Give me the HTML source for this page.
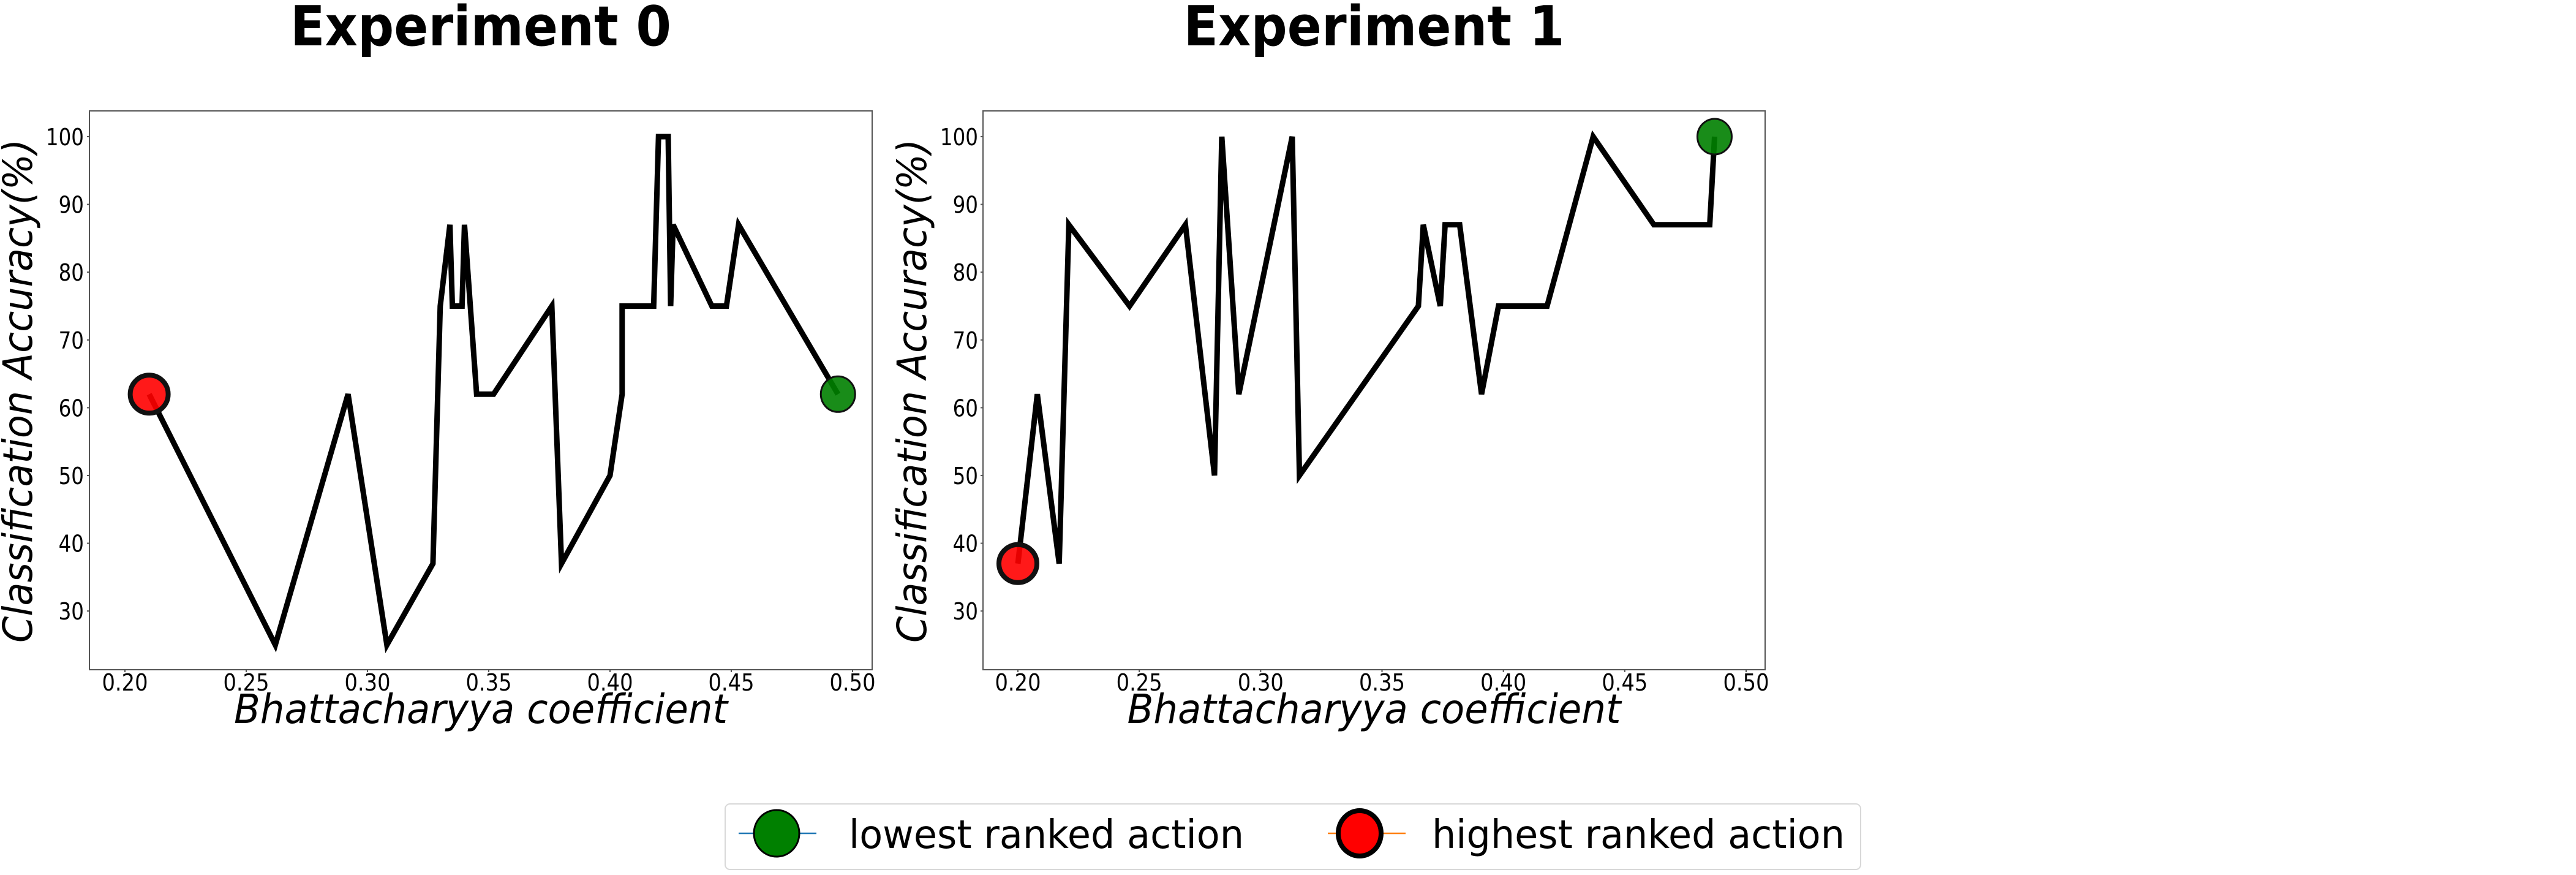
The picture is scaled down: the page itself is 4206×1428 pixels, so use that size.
<!DOCTYPE html>
<html><head><meta charset="utf-8"><style>html,body{margin:0;padding:0;background:#fff}svg{display:block}</style></head>
<body>
<svg id="chart" width="4206" height="1428" viewBox="0 0 4206 1428" xmlns="http://www.w3.org/2000/svg" font-family="DejaVu Sans, Liberation Sans, sans-serif">
<rect x="0" y="0" width="4206" height="1428" fill="#fff"/>
<g id="p0"></g>
<g id="p1"></g>
<g>
  <rect x="1184" y="1312" width="1854" height="107" rx="8" fill="#fff" stroke="#d8d8d8" stroke-width="2"/>
  <g>
    <line x1="1206" y1="1360" x2="1333" y2="1360" stroke="#1f77b4" stroke-width="2.5"/>
    <ellipse cx="1268" cy="1360" rx="37" ry="38" fill="#008000" stroke="#000" stroke-width="3"/>
    <text x="1386" y="1384" font-size="64" textLength="645" lengthAdjust="spacingAndGlyphs">lowest ranked action</text>
  </g>
  <g>
    <line x1="2168" y1="1360" x2="2295" y2="1360" stroke="#ff7f0e" stroke-width="2.5"/>
    <ellipse cx="2220" cy="1360" rx="35" ry="37" fill="#ff0000" stroke="#000" stroke-width="8"/>
    <text x="2338" y="1384" font-size="64" textLength="674" lengthAdjust="spacingAndGlyphs">highest ranked action</text>
  </g>
</g>
</svg>
<script>
const xTicks = [0.20, 0.25, 0.30, 0.35, 0.40, 0.45, 0.50];
const xTickLabels = ["0.20","0.25","0.30","0.35","0.40","0.45","0.50"];
const yTicks = [30, 40, 50, 60, 70, 80, 90, 100];
const titles = ["Experiment 0", "Experiment 1"];
const exp0X = [0.210,0.262,0.292,0.308,0.327,0.330,0.334,0.335,0.339,0.340,0.345,0.352,0.376,0.380,0.400,0.405,0.405,0.418,0.420,0.424,0.425,0.426,0.442,0.448,0.453,0.494];
const exp0Y = [62,25,62,25,37,75,87,75,75,87,62,62,75,37,50,62,75,75,100,100,75,87,75,75,87,62];
const exp1X = [0.200,0.208,0.217,0.221,0.246,0.269,0.281,0.284,0.291,0.313,0.316,0.365,0.367,0.374,0.376,0.382,0.391,0.398,0.418,0.437,0.462,0.485,0.487];
const exp1Y = [37,62,37,87,75,87,50,100,62,100,50,75,87,75,87,87,62,75,75,100,87,87,100];

const NS = "http://www.w3.org/2000/svg";
function mk(tag, attrs, parent){const e=document.createElementNS(NS,tag);for(const k in attrs)e.setAttribute(k,attrs[k]);parent.appendChild(e);return e;}

const panels = [
  {g:'p0', box:[146,181,1424,1093], x0:204, x1:1392, xs:exp0X, ys:exp0Y, ylabX:52, tickR:137},
  {g:'p1', box:[1605,181,2882,1093], x0:1662, x1:2851, xs:exp1X, ys:exp1Y, ylabX:1512, tickR:1597}
];
panels.forEach((p,i)=>{
  const g=document.getElementById(p.g);
  const X=v=>p.x0+(v-0.2)*(p.x1-p.x0)/0.3;
  const Y=v=>223+(100-v)*11.06;
  const [l,t,r,b]=p.box;
  const cx=(l+r)/2;
  const tt=mk('text',{x:cx,y:74,'font-size':90,'font-weight':'bold','text-anchor':'middle',textLength:622,lengthAdjust:'spacingAndGlyphs'},g);
  tt.textContent=titles[i];
  
  
  const fr=mk('rect',{x:l,y:t,width:r-l,height:b-t,fill:'none',stroke:'#555','stroke-width':2},g);
  
  
  xTicks.forEach((v,k)=>{
    const tm=mk('line',{x1:X(v),y1:b,x2:X(v),y2:b+4,stroke:'#555','stroke-width':2},g);
    
    
    const e=mk('text',{x:X(v),y:1127,'font-size':38,'text-anchor':'middle',textLength:75,lengthAdjust:'spacingAndGlyphs'},g);
    e.textContent=xTickLabels[k];
    
    
  });
  yTicks.forEach(v=>{
    const tm=mk('line',{x1:l-4,y1:Y(v),x2:l,y2:Y(v),stroke:'#555','stroke-width':2},g);
    
    
    const s=String(v);
    const e=mk('text',{x:p.tickR,y:Y(v)+14,'font-size':38,'text-anchor':'end',textLength:s.length*20.7,lengthAdjust:'spacingAndGlyphs'},g);
    e.textContent=s;
    
    
  });
  const xl=mk('text',{x:cx,y:1180,'font-size':66,'font-style':'italic','text-anchor':'middle',textLength:806,lengthAdjust:'spacingAndGlyphs'},g);
  xl.textContent='Bhattacharyya coefficient';
  
  
  const yl=mk('text',{x:0,y:0,'font-size':66,'font-style':'italic','text-anchor':'middle',textLength:822,lengthAdjust:'spacingAndGlyphs',transform:`translate(${p.ylabX},638) rotate(-90)`},g);
  yl.textContent='Classification Accuracy(%)';
  
  
  const pts=p.xs.map((v,k)=>X(v).toFixed(1)+','+Y(p.ys[k]).toFixed(1)).join(' ');
  const ln=mk('polyline',{points:pts,fill:'none',stroke:'#000','stroke-width':9,'stroke-linejoin':'miter','stroke-miterlimit':4},g);
  
  
  const n=p.xs.length-1;
  const hi=mk('ellipse',{cx:X(p.xs[0]),cy:Y(p.ys[0]),rx:31,ry:31,fill:'#ff0000','fill-opacity':0.9,stroke:'#111','stroke-width':8},g);
  
  
  const lo=mk('ellipse',{cx:X(p.xs[n]),cy:Y(p.ys[n]),rx:28,ry:29,fill:'#008000','fill-opacity':0.9,stroke:'#111','stroke-width':3},g);
  
  
});
</script>
</body></html>
